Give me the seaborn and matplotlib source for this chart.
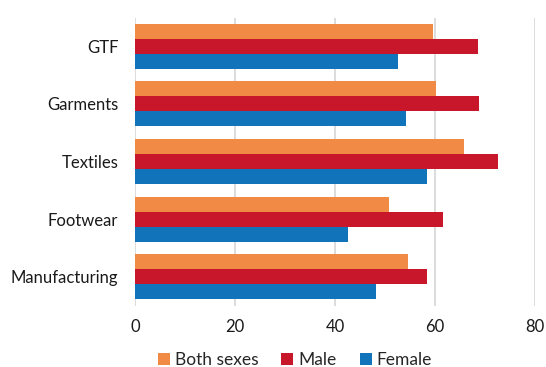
import matplotlib
matplotlib.use("Agg")
import matplotlib.pyplot as plt
import seaborn as sns
import pandas as pd

categories = ["GTF", "Garments", "Textiles", "Footwear", "Manufacturing"]
series = ["Both sexes", "Male", "Female"]
both_sexes = [59.6, 60.1, 65.8, 50.7, 54.5]
male = [68.6, 68.8, 72.6, 61.6, 58.3]
female = [52.6, 54.2, 58.3, 42.5, 48.1]
x_ticks = [0, 20, 40, 60, 80]
colors = ["#F08A45", "#C8172B", "#1174BA"]

rows = []
for name, vals in zip(series, [both_sexes, male, female]):
    for cat, v in zip(categories, vals):
        rows.append({"Category": cat, "Series": name, "Value": v})
df = pd.DataFrame(rows)

sns.set_style("white")
plt.rcParams["font.family"] = ["Lato", "DejaVu Sans"]

fig = plt.figure(figsize=(5.46, 3.67), dpi=100)
ax = fig.add_axes([135 / 546, 1 - 305.5 / 367, 400 / 546, 288 / 367])

sns.barplot(data=df, y="Category", x="Value", hue="Series",
            order=categories, hue_order=series, palette=colors,
            saturation=1, orient="h", width=0.78, ax=ax, legend=True,
            edgecolor="none", linewidth=0)

ax.set_xlim(0, 80)
ax.set_ylim(4.5, -0.5)
ax.set_xticks(x_ticks)
ax.set_xticklabels([str(t) for t in x_ticks])
ax.xaxis.grid(True, color="#D9D9D9", linewidth=1.3)
ax.set_axisbelow(True)
for s in ax.spines.values():
    s.set_visible(False)
ax.set_xlabel("")
ax.set_ylabel("")
ax.tick_params(axis="both", length=0, labelsize=12, colors="#1a1a1a")
ax.tick_params(axis="x", pad=10)
ax.tick_params(axis="y", pad=12)

handles, labels = ax.get_legend_handles_labels()
ax.get_legend().remove()
fig.legend(handles, labels, loc="center", bbox_to_anchor=(295 / 546, 1 - 360 / 367),
           ncol=3, frameon=False, fontsize=12.5, handlelength=0.7, handleheight=0.7,
           handletextpad=0.3, columnspacing=1.3, borderaxespad=0, borderpad=0)

fig.savefig("out.png", dpi=100)
